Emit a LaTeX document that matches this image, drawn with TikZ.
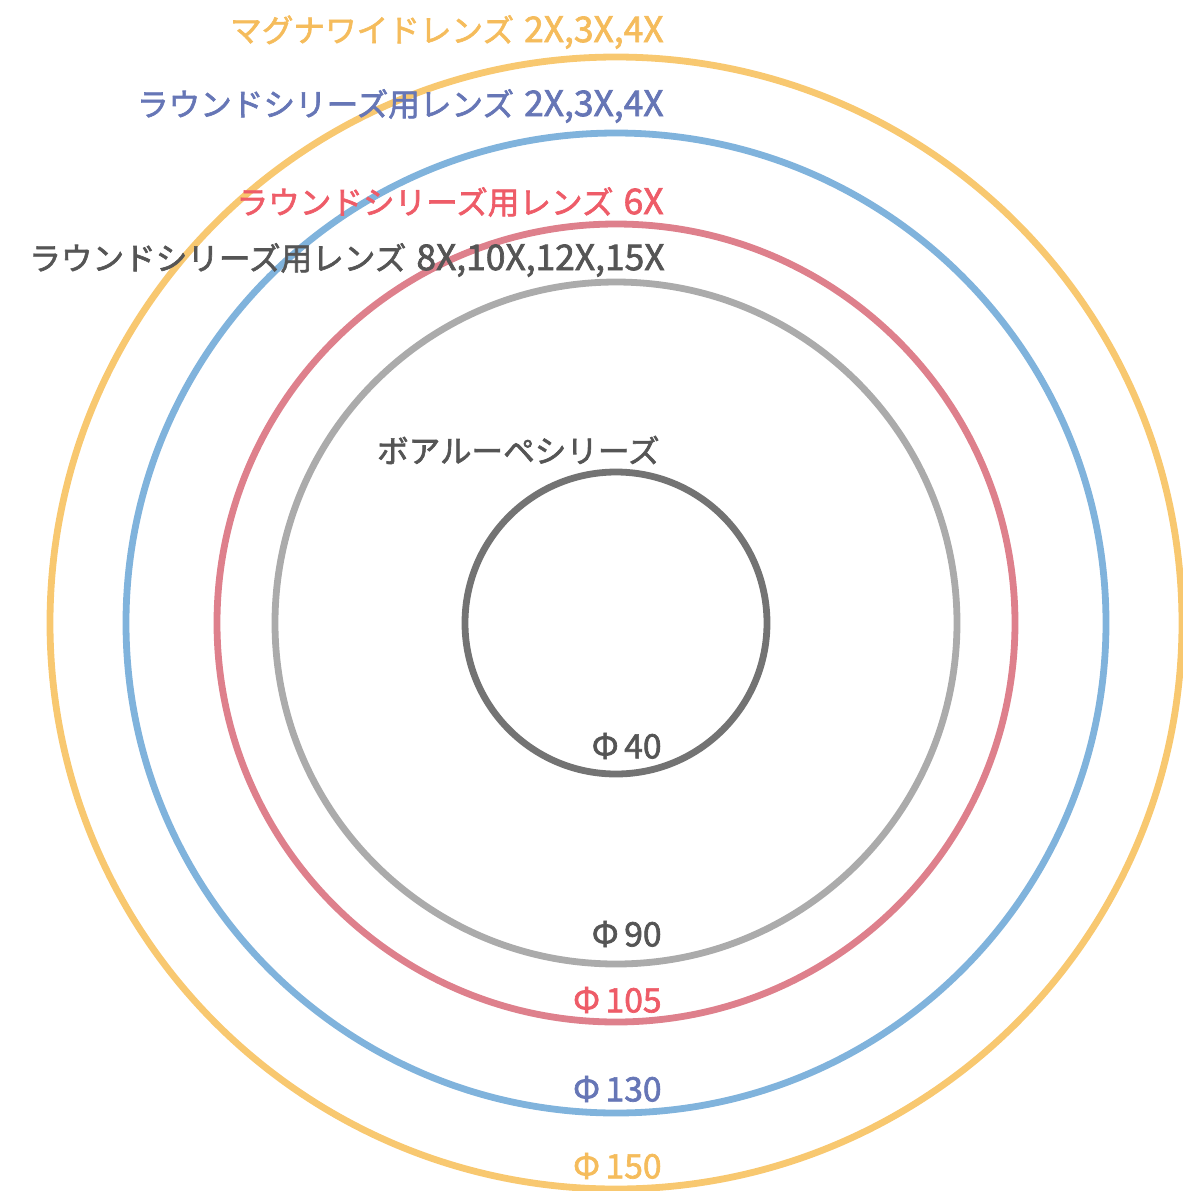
\documentclass[tikz,border=0pt]{standalone}
\usepackage{fontspec}
\setmainfont{Noto Sans CJK JP}[FakeBold=2]
\usetikzlibrary{positioning}

\definecolor{wideyellow}{HTML}{F8C870}
\definecolor{widetext}{HTML}{F5BC5C}
\definecolor{roundblue}{HTML}{80B3DC}
\definecolor{roundtext}{HTML}{6676B6}
\definecolor{sixred}{HTML}{DE808C}
\definecolor{sixtext}{HTML}{EE5C68}
\definecolor{highgray}{HTML}{ABABAB}
\definecolor{boagray}{HTML}{737373}
\definecolor{labelgray}{HTML}{555555}

% magnifications are set a bit larger than the kana
\newcommand\magx[1]{\hspace{1.5pt}{\fontsize{17.7}{19}\selectfont #1}}

\begin{document}
\begin{tikzpicture}[
  x=0.5pt,y=-0.5pt,
  ring/.style={draw,circle,line width=3.4pt,inner sep=0pt},
  lbl/.style={anchor=east,inner sep=0pt,font=\fontsize{15.8}{19}\selectfont},
  dia/.style={anchor=east,inner sep=0pt,font=\fontsize{16.8}{19}\selectfont}
]
  \useasboundingbox (0,0) rectangle (1183,1191);
  \coordinate (center) at (616,623);

  % lens rings
  \node[ring,wideyellow,minimum size=566pt] (r150) at (center) {};
  \node[ring,roundblue,minimum size=490pt] (r130) at (center) {};
  \node[ring,sixred,minimum size=399pt] (r105) at (center) {};
  \node[ring,highgray,minimum size=341pt] (r90) at (center) {};
  \node[ring,boagray,minimum size=151pt] (r40) at (center) {};

  % series names
  \node[lbl,widetext] (wide) at (664,32) {マグナワイドレンズ \magx{2X,3X,4X}};
  \node[lbl,roundtext] (round24) at (664,106) {ラウンドシリーズ用レンズ \magx{2X,3X,4X}};
  \node[lbl,sixtext] (round6) at (664,202) {ラウンドシリーズ用レンズ \magx{6X}};
  \node[lbl,labelgray] (round815) at (665,260) {ラウンドシリーズ用レンズ \magx{8X,10X,12X,15X}};
  \node[lbl,labelgray] (boa) at (660,450) {ボアルーペシリーズ};

  % diameters
  \node[dia,labelgray] (d40) at (662,746) {Φ\,40};
  \node[dia,labelgray] (d90) at (662,934) {Φ\,90};
  \node[dia,sixtext] (d105) at (662,1000) {Φ\,105};
  \node[dia,roundtext] (d130) at (662,1089) {Φ\,130};
  \node[dia,widetext] (d150) at (662,1166) {Φ\,150};
\end{tikzpicture}
\end{document}
